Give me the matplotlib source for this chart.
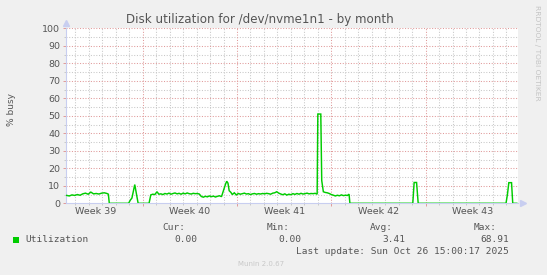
import matplotlib
matplotlib.use("Agg")
import matplotlib.pyplot as plt
from matplotlib.patches import Rectangle
from matplotlib.transforms import blended_transform_factory

# ---- data (days since Mon 22 Sep 2025 00:00, % busy) ----
days = [
    1.36, 1.55, 1.75, 1.95, 2.15, 2.35, 2.55, 2.75, 2.95, 3.15, 3.35, 3.55, 3.75, 3.95, 4.15, 4.35, 4.45,
    4.52, 5.95, 6.08, 6.20, 6.41, 6.52, 6.66, 7.47, 7.60, 7.75, 7.90, 8.06, 8.20,
    8.35, 8.50, 8.65, 8.80, 8.95, 9.10, 9.25, 9.40, 9.55, 9.70, 9.85, 10.00, 10.15, 10.30, 10.45,
    10.60, 10.75, 10.90, 11.05, 11.20,
    11.35, 11.50, 11.65, 11.80, 11.95, 12.10, 12.25, 12.40, 12.55, 12.70, 12.85,
    13.00, 13.15, 13.24, 13.33, 13.42, 13.55, 13.65, 13.80, 13.95,
    14.10, 14.25, 14.40, 14.55, 14.70, 14.85, 15.00, 15.15, 15.30, 15.45, 15.60, 15.75, 15.90,
    16.05, 16.20, 16.35, 16.50, 16.65, 16.80, 16.95, 17.10, 17.25, 17.40, 17.55, 17.70, 17.85,
    18.00, 18.15, 18.30, 18.45, 18.60, 18.75, 18.90, 19.05, 19.20, 19.35, 19.50, 19.65, 19.80, 19.95,
    20.00, 20.22, 20.29, 20.41, 20.55, 20.70, 20.85, 21.00, 21.13, 21.30, 21.45, 21.60, 21.75,
    21.90, 22.05, 22.20, 22.32, 22.38,
    27.05, 27.15, 27.33, 27.45,
    33.97, 34.08, 34.18, 34.38, 34.47, 34.77,
]
busy = [
    4.5, 4.2, 4.8, 4.5, 5.0, 4.6, 5.4, 5.8, 5.2, 6.4, 5.4, 5.6, 5.3, 5.8, 6.0, 5.6, 5.2,
    0.0, 0.0, 1.8, 3.0, 10.7, 6.0, 0.0, 0.0, 4.8, 5.2, 5.0, 6.6, 5.2,
    5.4, 5.0, 5.6, 5.3, 5.8, 5.2, 5.6, 5.9, 5.4, 5.7, 5.2, 5.8, 5.4, 5.9, 5.5,
    5.3, 5.7, 5.5, 5.6, 5.3,
    3.9, 3.5, 4.0, 3.7, 4.2, 3.8, 4.1, 3.6, 4.0, 4.3, 3.8,
    7.5, 11.0, 12.6, 11.5, 7.2, 6.2, 5.0, 6.0, 4.8,
    5.6, 5.2, 5.5, 5.8, 5.3, 5.5, 5.0, 5.4, 5.6, 5.2, 5.5, 5.3, 5.6,
    5.4, 5.7, 5.5, 5.2, 5.8, 6.0, 6.6, 5.8, 5.3, 4.9, 5.4, 4.7, 5.2,
    4.9, 5.5, 5.1, 5.6, 5.2, 5.7, 5.3, 5.5, 5.8, 5.4, 5.6, 5.5, 5.7, 5.2,
    51.0, 51.0, 13.0, 6.6, 6.2, 6.0, 5.6, 5.0, 4.7, 4.2, 4.6, 4.3, 4.8,
    4.4, 4.6, 4.5, 5.2, 0.0,
    0.0, 11.9, 11.9, 0.0,
    0.0, 5.3, 11.8, 11.8, 0.0, 0.0,
]
week_labels = ["Week 39", "Week 40", "Week 41", "Week 42", "Week 43"]
week_label_pos = [3.5, 10.5, 17.5, 24.5, 31.5]
y_ticks = [0, 10, 20, 30, 40, 50, 60, 70, 80, 90, 100]

title = "Disk utilization for /dev/nvme1n1 - by month"
series_name = "Utilization"
stat_heads = ["Cur:", "Min:", "Avg:", "Max:"]
stat_vals = ["0.00", "0.00", "3.41", "68.91"]
last_update = "Last update: Sun Oct 26 15:00:17 2025"

# ---- style ----
W, H = 547, 275
BG = "#F0F0F0"
FONT = "#555555"
GREEN = "#00CC00"
MGRID = "#E09A9A"
GRID = "#C8C8C8"
AXIS = "#C8CEF0"
DOT = (0, (1, 1.6))

plt.rcParams["font.family"] = ["DejaVu Sans"]
fig = plt.figure(figsize=(W / 100, H / 100), dpi=100, facecolor=BG)

L, R, T, B = 66.3, 518.0, 28.3, 203.3
ax = fig.add_axes([L / W, 1 - B / H, (R - L) / W, (B - T) / H])
ax.set_facecolor("white")
ax.set_xlim(1.328, 34.86)
ax.set_ylim(0, 100)

# grids
for d in range(2, 35):
    if d % 7:
        ax.axvline(d, color=GRID, lw=0.75, ls=DOT, zorder=1)
for d in (7, 14, 21, 28):
    ax.axvline(d, color=MGRID, lw=0.75, ls=DOT, zorder=1.5)
for yv in range(5, 100, 10):
    ax.axhline(yv, color=GRID, lw=0.75, ls=DOT, zorder=1)
for yv in range(10, 101, 10):
    ax.axhline(yv, color=MGRID, lw=0.75, ls=DOT, zorder=1.5)

ax.plot(days, busy, color=GREEN, lw=1.05, zorder=3, solid_joinstyle="miter")

for s in ("top", "right"):
    ax.spines[s].set_visible(False)
for s in ("left", "bottom"):
    ax.spines[s].set_color(AXIS)
    ax.spines[s].set_linewidth(0.8)

ax.set_yticks(y_ticks)
ax.set_yticks(list(range(5, 100, 10)), minor=True)
ax.set_xticks([7, 14, 21, 28])
ax.set_xticks([d for d in range(2, 35) if d % 7], minor=True)
ax.set_xticklabels([])
ax.tick_params(axis="y", which="major", length=2.2, width=0.7, color=MGRID,
               labelsize=6.8, labelcolor=FONT, pad=2.2)
ax.tick_params(axis="y", which="minor", length=1.5, width=0.7, color=GRID)
ax.tick_params(axis="x", which="major", length=2.2, width=0.7, color=MGRID)
ax.tick_params(axis="x", which="minor", length=1.5, width=0.7, color=GRID)

trans = blended_transform_factory(ax.transData, fig.transFigure)
for pos, lab in zip(week_label_pos, week_labels):
    ax.text(pos, 1 - 211.7 / H, lab, transform=trans, ha="center", va="center",
            fontsize=6.8, color=FONT)

# axis arrows
ax.plot([0], [1.03], marker="^", ms=4, color=AXIS, transform=ax.transAxes, clip_on=False)
ax.plot([1.01], [0], marker=">", ms=4, color=AXIS, transform=ax.transAxes, clip_on=False)

def ftext(x, y, s, **kw):
    fig.text(x / W, 1 - y / H, s, **kw)

ftext(260, 19.3, title, ha="center", va="center", fontsize=8.6, color=FONT)
ftext(11, 110, "% busy", ha="center", va="center", rotation=90, fontsize=6.5, color=FONT)
ftext(537, 53, "RRDTOOL / TOBI OETIKER", ha="center", va="center", rotation=270,
      fontsize=5.4, color="#C4C4C4")

mono = dict(family="DejaVu Sans Mono", fontsize=6.8, color=FONT, va="center")
fig.patches.append(Rectangle((13.3 / W, 1 - 243 / H), 6 / W, 6 / H, transform=fig.transFigure,
                             facecolor=GREEN, edgecolor="none"))
ftext(25, 240, series_name, ha="left", **mono)
head_x = [185, 289.3, 392.7, 496.7]
val_x = [197.3, 301.7, 405, 509]
for hx, h in zip(head_x, stat_heads):
    ftext(hx, 227.3, h, ha="right", **mono)
for vx, v in zip(val_x, stat_vals):
    ftext(vx, 240, v, ha="right", **mono)
ftext(509, 251.7, last_update, ha="right", **mono)
ftext(260.7, 264, "Munin 2.0.67", ha="center", va="center", fontsize=5.0, color="#C8C8C8")

fig.savefig("out.png", dpi=100, facecolor=BG)
